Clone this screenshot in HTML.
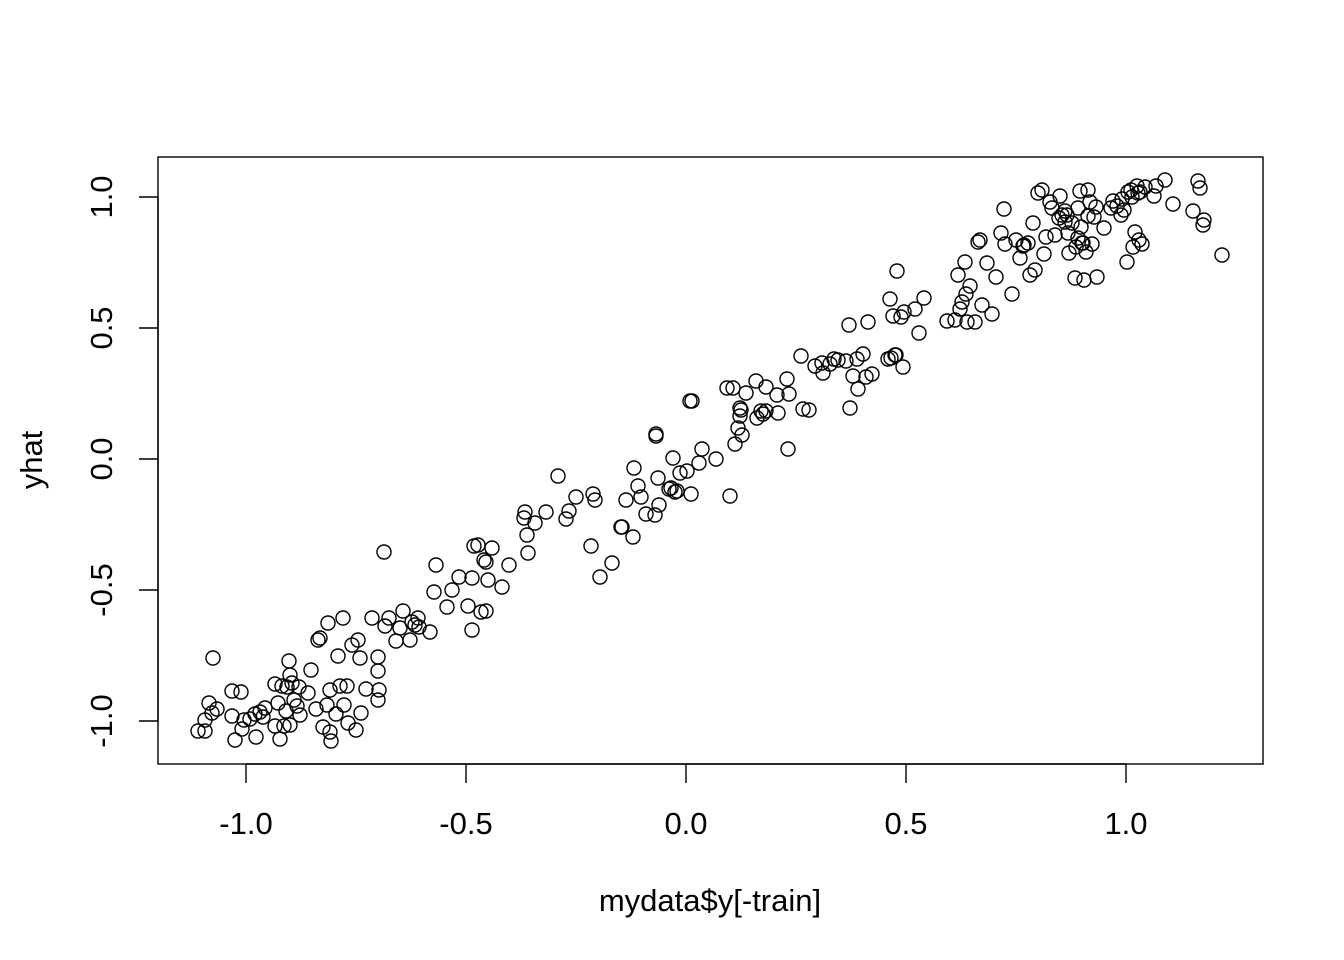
<!DOCTYPE html>
<html><head><meta charset="utf-8"><style>html,body{margin:0;padding:0;background:#fff}svg{display:block}</style></head>
<body>
<svg width="1344" height="960" xmlns="http://www.w3.org/2000/svg" font-family="Liberation Sans, Arial, sans-serif" font-size="31">
<rect width="1344" height="960" fill="#fff"/>
<rect x="158" y="157" width="1105" height="607" fill="none" stroke="#000" stroke-width="1.4"/>
<g stroke="#000" stroke-width="1.4">
<line x1="246" y1="764" x2="1126" y2="764"/>
<line x1="246" y1="764" x2="246" y2="783"/><line x1="466" y1="764" x2="466" y2="783"/><line x1="686" y1="764" x2="686" y2="783"/><line x1="906" y1="764" x2="906" y2="783"/><line x1="1126" y1="764" x2="1126" y2="783"/>
<line x1="158" y1="197" x2="158" y2="721"/>
<line x1="158" y1="197" x2="139" y2="197"/><line x1="158" y1="328" x2="139" y2="328"/><line x1="158" y1="459" x2="139" y2="459"/><line x1="158" y1="590" x2="139" y2="590"/><line x1="158" y1="721" x2="139" y2="721"/>
</g>
<g text-anchor="middle" fill="#000">
<text x="246" y="834">-1.0</text><text x="466" y="834">-0.5</text><text x="686" y="834">0.0</text><text x="906" y="834">0.5</text><text x="1126" y="834">1.0</text>
<text x="710" y="911">mydata$y[-train]</text>
<text transform="translate(112,197) rotate(-90)">1.0</text>
<text transform="translate(112,328) rotate(-90)">0.5</text>
<text transform="translate(112,459) rotate(-90)">0.0</text>
<text transform="translate(112,590) rotate(-90)">-0.5</text>
<text transform="translate(112,721) rotate(-90)">-1.0</text>
<text transform="translate(42,460) rotate(-90)">yhat</text>
</g>
<g fill="none" stroke="#000" stroke-width="1.4">
<circle cx="198" cy="731" r="7"/><circle cx="205" cy="731" r="7"/><circle cx="205" cy="720" r="7"/><circle cx="209" cy="703" r="7"/><circle cx="213" cy="658" r="7"/><circle cx="212" cy="713" r="7"/><circle cx="217" cy="709" r="7"/><circle cx="232" cy="691" r="7"/><circle cx="241" cy="692" r="7"/><circle cx="232" cy="716" r="7"/><circle cx="235" cy="740" r="7"/><circle cx="242" cy="729" r="7"/><circle cx="244" cy="720" r="7"/><circle cx="250" cy="719" r="7"/><circle cx="256" cy="737" r="7"/><circle cx="255" cy="714" r="7"/><circle cx="260" cy="712" r="7"/><circle cx="263" cy="717" r="7"/><circle cx="265" cy="708" r="7"/><circle cx="275" cy="684" r="7"/><circle cx="275" cy="726" r="7"/><circle cx="278" cy="703" r="7"/><circle cx="280" cy="739" r="7"/><circle cx="282" cy="686" r="7"/><circle cx="284" cy="726" r="7"/><circle cx="286" cy="711" r="7"/><circle cx="287" cy="687" r="7"/><circle cx="289" cy="661" r="7"/><circle cx="290" cy="675" r="7"/><circle cx="290" cy="725" r="7"/><circle cx="292" cy="683" r="7"/><circle cx="294" cy="700" r="7"/><circle cx="297" cy="706" r="7"/><circle cx="300" cy="715" r="7"/><circle cx="299" cy="687" r="7"/><circle cx="308" cy="693" r="7"/><circle cx="311" cy="670" r="7"/><circle cx="316" cy="709" r="7"/><circle cx="318" cy="640" r="7"/><circle cx="320" cy="638" r="7"/><circle cx="323" cy="727" r="7"/><circle cx="328" cy="623" r="7"/><circle cx="327" cy="705" r="7"/><circle cx="330" cy="732" r="7"/><circle cx="331" cy="741" r="7"/><circle cx="330" cy="690" r="7"/><circle cx="336" cy="714" r="7"/><circle cx="338" cy="656" r="7"/><circle cx="340" cy="686" r="7"/><circle cx="343" cy="618" r="7"/><circle cx="344" cy="705" r="7"/><circle cx="347" cy="686" r="7"/><circle cx="348" cy="723" r="7"/><circle cx="352" cy="645" r="7"/><circle cx="356" cy="730" r="7"/><circle cx="358" cy="640" r="7"/><circle cx="360" cy="658" r="7"/><circle cx="361" cy="713" r="7"/><circle cx="366" cy="689" r="7"/><circle cx="372" cy="618" r="7"/><circle cx="378" cy="671" r="7"/><circle cx="378" cy="700" r="7"/><circle cx="378" cy="657" r="7"/><circle cx="379" cy="690" r="7"/><circle cx="384" cy="552" r="7"/><circle cx="385" cy="626" r="7"/><circle cx="389" cy="618" r="7"/><circle cx="396" cy="641" r="7"/><circle cx="400" cy="628" r="7"/><circle cx="403" cy="611" r="7"/><circle cx="410" cy="640" r="7"/><circle cx="412" cy="622" r="7"/><circle cx="415" cy="625" r="7"/><circle cx="418" cy="618" r="7"/><circle cx="419" cy="627" r="7"/><circle cx="430" cy="632" r="7"/><circle cx="434" cy="592" r="7"/><circle cx="436" cy="565" r="7"/><circle cx="447" cy="607" r="7"/><circle cx="452" cy="590" r="7"/><circle cx="459" cy="577" r="7"/><circle cx="468" cy="606" r="7"/><circle cx="472" cy="578" r="7"/><circle cx="472" cy="630" r="7"/><circle cx="474" cy="546" r="7"/><circle cx="478" cy="545" r="7"/><circle cx="481" cy="612" r="7"/><circle cx="484" cy="560" r="7"/><circle cx="486" cy="562" r="7"/><circle cx="486" cy="611" r="7"/><circle cx="488" cy="580" r="7"/><circle cx="492" cy="548" r="7"/><circle cx="502" cy="587" r="7"/><circle cx="509" cy="565" r="7"/><circle cx="524" cy="518" r="7"/><circle cx="525" cy="512" r="7"/><circle cx="527" cy="535" r="7"/><circle cx="528" cy="553" r="7"/><circle cx="535" cy="523" r="7"/><circle cx="546" cy="512" r="7"/><circle cx="558" cy="476" r="7"/><circle cx="566" cy="519" r="7"/><circle cx="569" cy="511" r="7"/><circle cx="576" cy="497" r="7"/><circle cx="591" cy="546" r="7"/><circle cx="593" cy="494" r="7"/><circle cx="595" cy="500" r="7"/><circle cx="600" cy="577" r="7"/><circle cx="612" cy="563" r="7"/><circle cx="621" cy="527" r="7"/><circle cx="622" cy="527" r="7"/><circle cx="626" cy="500" r="7"/><circle cx="633" cy="537" r="7"/><circle cx="634" cy="468" r="7"/><circle cx="638" cy="486" r="7"/><circle cx="641" cy="497" r="7"/><circle cx="646" cy="514" r="7"/><circle cx="655" cy="515" r="7"/><circle cx="656" cy="434" r="7"/><circle cx="656" cy="436" r="7"/><circle cx="658" cy="478" r="7"/><circle cx="659" cy="505" r="7"/><circle cx="669" cy="489" r="7"/><circle cx="671" cy="488" r="7"/><circle cx="673" cy="458" r="7"/><circle cx="675" cy="492" r="7"/><circle cx="677" cy="491" r="7"/><circle cx="680" cy="473" r="7"/><circle cx="687" cy="471" r="7"/><circle cx="691" cy="494" r="7"/><circle cx="690" cy="401" r="7"/><circle cx="692" cy="401" r="7"/><circle cx="699" cy="463" r="7"/><circle cx="702" cy="449" r="7"/><circle cx="716" cy="459" r="7"/><circle cx="727" cy="388" r="7"/><circle cx="730" cy="496" r="7"/><circle cx="733" cy="388" r="7"/><circle cx="735" cy="444" r="7"/><circle cx="738" cy="428" r="7"/><circle cx="740" cy="408" r="7"/><circle cx="740" cy="416" r="7"/><circle cx="741" cy="410" r="7"/><circle cx="742" cy="435" r="7"/><circle cx="746" cy="393" r="7"/><circle cx="756" cy="381" r="7"/><circle cx="757" cy="418" r="7"/><circle cx="761" cy="411" r="7"/><circle cx="763" cy="414" r="7"/><circle cx="766" cy="411" r="7"/><circle cx="766" cy="387" r="7"/><circle cx="777" cy="395" r="7"/><circle cx="778" cy="413" r="7"/><circle cx="787" cy="379" r="7"/><circle cx="788" cy="449" r="7"/><circle cx="789" cy="394" r="7"/><circle cx="801" cy="356" r="7"/><circle cx="803" cy="409" r="7"/><circle cx="809" cy="410" r="7"/><circle cx="815" cy="366" r="7"/><circle cx="822" cy="363" r="7"/><circle cx="823" cy="373" r="7"/><circle cx="830" cy="364" r="7"/><circle cx="834" cy="359" r="7"/><circle cx="838" cy="360" r="7"/><circle cx="846" cy="361" r="7"/><circle cx="849" cy="325" r="7"/><circle cx="850" cy="408" r="7"/><circle cx="853" cy="376" r="7"/><circle cx="857" cy="359" r="7"/><circle cx="858" cy="389" r="7"/><circle cx="863" cy="354" r="7"/><circle cx="866" cy="377" r="7"/><circle cx="868" cy="322" r="7"/><circle cx="872" cy="374" r="7"/><circle cx="888" cy="359" r="7"/><circle cx="890" cy="299" r="7"/><circle cx="891" cy="358" r="7"/><circle cx="893" cy="316" r="7"/><circle cx="895" cy="355" r="7"/><circle cx="896" cy="355" r="7"/><circle cx="897" cy="271" r="7"/><circle cx="901" cy="317" r="7"/><circle cx="903" cy="367" r="7"/><circle cx="904" cy="312" r="7"/><circle cx="915" cy="309" r="7"/><circle cx="919" cy="333" r="7"/><circle cx="924" cy="298" r="7"/><circle cx="947" cy="321" r="7"/><circle cx="955" cy="320" r="7"/><circle cx="958" cy="275" r="7"/><circle cx="960" cy="309" r="7"/><circle cx="962" cy="302" r="7"/><circle cx="965" cy="262" r="7"/><circle cx="966" cy="294" r="7"/><circle cx="967" cy="322" r="7"/><circle cx="970" cy="286" r="7"/><circle cx="975" cy="322" r="7"/><circle cx="978" cy="242" r="7"/><circle cx="980" cy="240" r="7"/><circle cx="982" cy="305" r="7"/><circle cx="987" cy="263" r="7"/><circle cx="992" cy="314" r="7"/><circle cx="996" cy="277" r="7"/><circle cx="1001" cy="233" r="7"/><circle cx="1004" cy="209" r="7"/><circle cx="1005" cy="244" r="7"/><circle cx="1012" cy="294" r="7"/><circle cx="1016" cy="240" r="7"/><circle cx="1020" cy="258" r="7"/><circle cx="1023" cy="246" r="7"/><circle cx="1024" cy="245" r="7"/><circle cx="1028" cy="243" r="7"/><circle cx="1030" cy="275" r="7"/><circle cx="1033" cy="223" r="7"/><circle cx="1035" cy="270" r="7"/><circle cx="1038" cy="193" r="7"/><circle cx="1042" cy="190" r="7"/><circle cx="1044" cy="254" r="7"/><circle cx="1046" cy="237" r="7"/><circle cx="1050" cy="202" r="7"/><circle cx="1052" cy="208" r="7"/><circle cx="1055" cy="235" r="7"/><circle cx="1059" cy="218" r="7"/><circle cx="1060" cy="196" r="7"/><circle cx="1062" cy="215" r="7"/><circle cx="1065" cy="211" r="7"/><circle cx="1065" cy="222" r="7"/><circle cx="1068" cy="233" r="7"/><circle cx="1069" cy="253" r="7"/><circle cx="1072" cy="223" r="7"/><circle cx="1075" cy="278" r="7"/><circle cx="1076" cy="247" r="7"/><circle cx="1078" cy="208" r="7"/><circle cx="1080" cy="191" r="7"/><circle cx="1081" cy="227" r="7"/><circle cx="1082" cy="243" r="7"/><circle cx="1083" cy="243" r="7"/><circle cx="1084" cy="280" r="7"/><circle cx="1086" cy="252" r="7"/><circle cx="1088" cy="216" r="7"/><circle cx="1088" cy="190" r="7"/><circle cx="1090" cy="202" r="7"/><circle cx="1092" cy="244" r="7"/><circle cx="1094" cy="217" r="7"/><circle cx="1096" cy="207" r="7"/><circle cx="1097" cy="277" r="7"/><circle cx="1104" cy="228" r="7"/><circle cx="1111" cy="208" r="7"/><circle cx="1113" cy="201" r="7"/><circle cx="1117" cy="206" r="7"/><circle cx="1121" cy="215" r="7"/><circle cx="1122" cy="199" r="7"/><circle cx="1124" cy="210" r="7"/><circle cx="1127" cy="262" r="7"/><circle cx="1128" cy="192" r="7"/><circle cx="1131" cy="190" r="7"/><circle cx="1133" cy="247" r="7"/><circle cx="1135" cy="232" r="7"/><circle cx="1137" cy="186" r="7"/><circle cx="1138" cy="193" r="7"/><circle cx="1139" cy="240" r="7"/><circle cx="1140" cy="192" r="7"/><circle cx="1142" cy="244" r="7"/><circle cx="1145" cy="187" r="7"/><circle cx="1154" cy="196" r="7"/><circle cx="1156" cy="186" r="7"/><circle cx="1165" cy="180" r="7"/><circle cx="1173" cy="204" r="7"/><circle cx="1193" cy="211" r="7"/><circle cx="1198" cy="181" r="7"/><circle cx="1200" cy="188" r="7"/><circle cx="1203" cy="225" r="7"/><circle cx="1204" cy="220" r="7"/><circle cx="1222" cy="255" r="7"/><circle cx="1132" cy="197" r="7"/><circle cx="1067" cy="215" r="7"/><circle cx="1078" cy="238" r="7"/>
</g>
</svg>
</body></html>
